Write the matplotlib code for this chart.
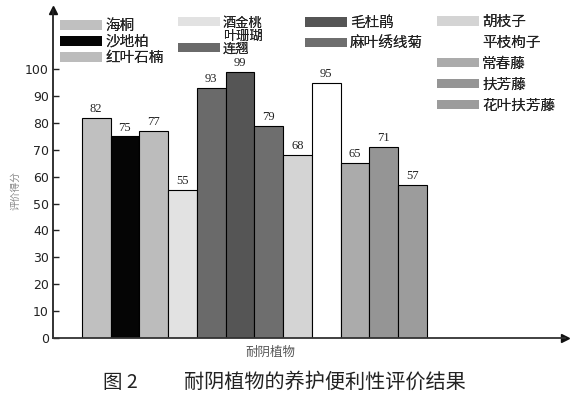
import matplotlib
matplotlib.use('Agg')
import matplotlib.pyplot as plt
from matplotlib.patches import Patch

plt.rcParams['font.family'] = ['Noto Sans CJK SC', 'DejaVu Sans']

# data
plants = ['海桐', '沙地柏', '红叶石楠', '酒金桃叶珊瑚', '连翘', '毛杜鹃', '麻叶绣线菊',
          '胡枝子', '平枝枸子', '常春藤', '扶芳藤', '花叶扶芳藤']
scores = [82, 75, 77, 55, 93, 99, 79, 68, 95, 65, 71, 57]
colors = ['#c0c0c0', '#050505', '#bcbcbc', '#e2e2e2', '#6a6a6a', '#555555',
          '#6e6e6e', '#d4d4d4', '#ffffff', '#ababab', '#959595', '#9c9c9c']
yticks = list(range(0, 101, 10))

W, H = 575, 397
fig = plt.figure(figsize=(W / 100, H / 100), dpi=100)
ax = fig.add_axes([53 / W, 1 - 338 / H, 512 / W, 328 / H])

x = list(range(1, len(scores) + 1))
bars = ax.bar(x, scores, width=1, align='edge', color=colors,
              edgecolor='black', linewidth=0.8)
ax.bar_label(bars, padding=2, fontsize=9, family='Liberation Serif', color='#222222')

ax.set_xlim(0, 17.8)
ax.set_ylim(0, 122)
ax.set_yticks(yticks)
ax.set_xticks([])
ax.tick_params(axis='y', direction='in', length=4, width=1, labelsize=9,
               pad=3, colors='#222222')
for lab in ax.get_yticklabels():
    lab.set_family('DejaVu Sans')

for s in ['top', 'right']:
    ax.spines[s].set_visible(False)
ax.spines['left'].set_linewidth(1.3)
ax.spines['bottom'].set_linewidth(1.3)
ax.spines['left'].set_color('#222222')
ax.spines['bottom'].set_color('#333333')
ax.plot(0, 1, marker='^', color='#111111', markersize=6, transform=ax.transAxes, clip_on=False)
ax.plot(1, 0, marker='>', color='#111111', markersize=6, transform=ax.transAxes, clip_on=False)

fig.text(15 / W, 1 - 190 / H, '评价得分', rotation=90, fontsize=7,
         color='#888888', ha='center', va='center')
fig.text(270 / W, 1 - 352 / H, '耐阴植物', fontsize=9, color='#555555',
         ha='center', va='center')
fig.text(103 / W, 1 - 382 / H, '图 2', fontsize=14, color='#222222',
         ha='left', va='center')
fig.text(325 / W, 1 - 382 / H, '耐阴植物的养护便利性评价结果', fontsize=14.5,
         color='#222222', ha='center', va='center')

# legend, four columns laid out as in the figure
def handle(i):
    return Patch(facecolor=colors[i], edgecolor='none')

blank = Patch(facecolor='none', edgecolor='none')
columns = [
    ([handle(0), handle(1), handle(2)], plants[0:3], 60, 19, 0.14, 10.5),
    ([handle(3), blank, handle(4)], ['酒金桃', '叶珊瑚', '连翘'], 178, 16.5, 0.0, 9.5),
    ([handle(5), handle(6)], plants[5:7], 305, 16, 0.44, 10.5),
    ([handle(i) for i in range(7, 12)], plants[7:12], 437, 15, 0.47, 10.5),
]
for hs, labels, xp, yp, sp, fs in columns:
    px = fs * 100 / 72
    leg = fig.legend(hs, labels, loc='upper left', bbox_to_anchor=(xp / W, 1 - yp / H),
                     frameon=False, fontsize=fs, borderpad=0, borderaxespad=0,
                     handlelength=42 / px, handleheight=9 / px, handletextpad=3 / px,
                     labelspacing=sp, labelcolor='#222222')
    fig.add_artist(leg)

fig.savefig('out.png', dpi=100)
